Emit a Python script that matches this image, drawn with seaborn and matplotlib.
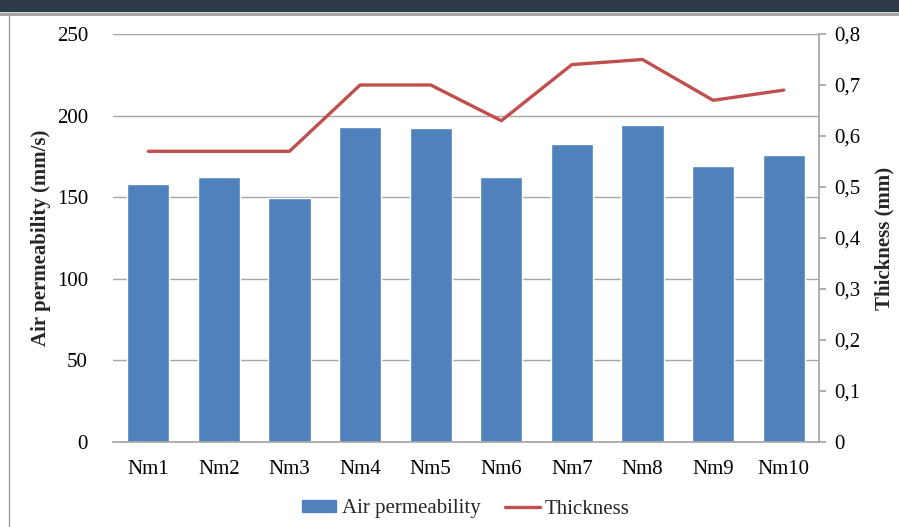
import matplotlib
matplotlib.use("Agg")
import matplotlib.pyplot as plt
import seaborn as sns
import pandas as pd
from matplotlib.patches import Rectangle
from matplotlib.lines import Line2D
from matplotlib.ticker import FuncFormatter

categories = ["Nm1", "Nm2", "Nm3", "Nm4", "Nm5", "Nm6", "Nm7", "Nm8", "Nm9", "Nm10"]
air_perm = [158.3, 162.6, 149.8, 193.2, 192.6, 162.6, 182.6, 194.3, 169.2, 176.1]
thickness = [0.57, 0.57, 0.57, 0.70, 0.70, 0.63, 0.74, 0.75, 0.67, 0.69]

sns.set_theme(style="white")
plt.rcParams["font.family"] = ["Liberation Serif", "DejaVu Serif"]

BLUE = "#4F81BD"
RED = "#C0504D"
GRID = "#A6A6A6"

df = pd.DataFrame({"cat": categories, "air": air_perm, "thk": thickness})

fig = plt.figure(figsize=(8.99, 5.27), dpi=100)
W, H = 899, 527
ax = fig.add_axes([113 / W, 1 - 442 / H, (819 - 113) / W, (442 - 34) / H])

sns.barplot(data=df, x="cat", y="air", color=BLUE, saturation=1, width=0.6, ax=ax)
ax.set_ylim(0, 250)
ax.set_yticks([0, 50, 100, 150, 200, 250])
ax.yaxis.grid(True, color=GRID, linewidth=1)
ax.set_axisbelow(True)
for s in ["top", "right", "left"]:
    ax.spines[s].set_visible(False)
ax.spines["bottom"].set_color(GRID)
ax.tick_params(axis="y", length=0, pad=18, labelsize=15, colors="black")
ax.tick_params(axis="x", length=0, pad=13, labelsize=15, colors="black")
ax.set_xlabel("")
ax.set_ylabel("Air permeability (mm/s)", fontsize=15, fontweight="bold", labelpad=4)

ax2 = ax.twinx()
sns.lineplot(x=list(range(len(categories))), y=thickness, color=RED, linewidth=2.4, ax=ax2)
ax2.set_ylim(0, 0.8)
ax.set_xlim(-0.5, len(categories) - 0.5)
ax2.set_xlim(-0.5, len(categories) - 0.5)
ax2.set_yticks([0, 0.1, 0.2, 0.3, 0.4, 0.5, 0.6, 0.7, 0.8])
ax2.yaxis.set_major_formatter(FuncFormatter(lambda v, p: ("%g" % round(v, 1)).replace(".", ",")))
for s in ["top", "left", "bottom"]:
    ax2.spines[s].set_visible(False)
ax2.spines["right"].set_color(GRID)
ax2.tick_params(axis="y", direction="out", length=5, color=GRID, pad=6, labelsize=15, colors="black")
ax2.set_ylabel("Thickness (mm)", fontsize=15, fontweight="bold", labelpad=10)
ax2.grid(False)

handles = [Rectangle((0, 0), 1, 1, color=BLUE), Line2D([0], [0], color=RED, linewidth=2.4)]
fig.legend(handles, ["Air permeability", "Thickness"], loc="center", bbox_to_anchor=(466 / W, 1 - 509 / H),
           ncol=2, frameon=False, fontsize=15, handlelength=1.65, handleheight=0.55,
           handletextpad=0.25, columnspacing=1.2)

# screenshot frame
fig.patches.append(Rectangle((0, 1 - 11 / H), 1, 11 / H, transform=fig.transFigure, color="#2E3A48", zorder=0))
fig.lines.append(Line2D([0, 1], [1 - 13.5 / H] * 2, transform=fig.transFigure, color="#A0A0A0", linewidth=2))
fig.lines.append(Line2D([9 / W] * 2, [0, 1 - 13 / H], transform=fig.transFigure, color="#A0A0A0", linewidth=1))

fig.savefig("out.png", dpi=100)
